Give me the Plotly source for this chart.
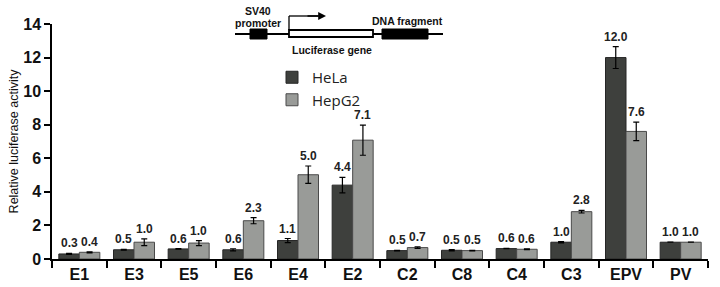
import plotly.graph_objects as go

categories = ["E1", "E3", "E5", "E6", "E4", "E2", "C2", "C8", "C4", "C3", "EPV", "PV"]
hela = [0.3, 0.55, 0.6, 0.55, 1.1, 4.4, 0.5, 0.52, 0.62, 1.0, 12.0, 1.0]
hela_err = [0.03, 0.03, 0.02, 0.06, 0.12, 0.46, 0.02, 0.04, 0.01, 0.04, 0.65, 0.0]
hela_lbl = ["0.3", "0.5", "0.6", "0.6", "1.1", "4.4", "0.5", "0.5", "0.6", "1.0", "12.0", "1.0"]
hepg2 = [0.4, 1.0, 0.95, 2.28, 5.02, 7.08, 0.68, 0.5, 0.58, 2.82, 7.6, 1.0]
hepg2_err = [0.03, 0.2, 0.15, 0.18, 0.52, 0.9, 0.05, 0.02, 0.02, 0.08, 0.55, 0.0]
hepg2_lbl = ["0.4", "1.0", "1.0", "2.3", "5.0", "7.1", "0.7", "0.5", "0.6", "2.8", "7.6", "1.0"]

W, H = 720, 287
ML, MR, MT, MB = 52, 12, 24, 28
PW, PH = W - ML - MR, H - MT - MB

def px(x):
    return (x - ML) / PW

def py(y):
    return (H - MB - y) / PH

fig = go.Figure()
fig.add_trace(go.Bar(
    x=categories, y=hela, name="HeLa",
    marker=dict(color="#3e403d", line=dict(color="#262626", width=1)),
    error_y=dict(type="data", array=hela_err, color="black", thickness=1.2, width=3),
))
fig.add_trace(go.Bar(
    x=categories, y=hepg2, name="HepG2",
    marker=dict(color="#999b98", line=dict(color="#4a4a4a", width=1)),
    error_y=dict(type="data", array=hepg2_err, color="black", thickness=1.2, width=3),
))

cat_w = PW / len(categories)
off = 0.1875 * cat_w
lfont = dict(family="Liberation Sans", size=12, color="#222")
ann = []
for c, v, e, t in zip(categories, hela, hela_err, hela_lbl):
    ann.append(dict(x=c, y=v + e, text="<b>" + t + "</b>", xshift=-off, yshift=1, showarrow=False,
                    xanchor="center", yanchor="bottom", font=lfont, xref="x", yref="y"))
for c, v, e, t in zip(categories, hepg2, hepg2_err, hepg2_lbl):
    ann.append(dict(x=c, y=v + e, text="<b>" + t + "</b>", xshift=off, yshift=1, showarrow=False,
                    xanchor="center", yanchor="bottom", font=lfont, xref="x", yref="y"))

# construct diagram
dfont = dict(family="Liberation Sans", size=10.5, color="#111")
def lab(x, y, t):
    return dict(x=px(x), y=py(y), text="<b>" + t + "</b>", xref="paper", yref="paper",
                showarrow=False, xanchor="center", yanchor="middle", font=dfont)
ann += [
    lab(258, 11, "SV40"),
    lab(258, 23, "promoter"),
    lab(332, 50, "Luciferase gene"),
    lab(407, 21, "DNA fragment"),
    dict(x=px(326), y=py(16), ax=-20, ay=0, xref="paper", yref="paper", axref="pixel", ayref="pixel",
         text="", showarrow=True, arrowhead=2, arrowsize=1.2, arrowwidth=1.3, arrowcolor="black"),
]
shapes = [
    dict(type="line", xref="paper", yref="paper", x0=px(235), x1=px(443), y0=py(34), y1=py(34),
         line=dict(color="black", width=1.8)),
    dict(type="rect", xref="paper", yref="paper", x0=px(250), x1=px(267), y0=py(29), y1=py(39),
         fillcolor="black", line=dict(color="black", width=1)),
    dict(type="rect", xref="paper", yref="paper", x0=px(289), x1=px(373), y0=py(30), y1=py(37),
         fillcolor="white", line=dict(color="black", width=1.8)),
    dict(type="rect", xref="paper", yref="paper", x0=px(382), x1=px(428), y0=py(29), y1=py(39),
         fillcolor="black", line=dict(color="black", width=1)),
    dict(type="line", xref="paper", yref="paper", x0=px(289), x1=px(289), y0=py(30), y1=py(16),
         line=dict(color="black", width=1.3)),
    dict(type="line", xref="paper", yref="paper", x0=px(289), x1=px(318), y0=py(16), y1=py(16),
         line=dict(color="black", width=1.3)),
]

fig.update_layout(
    width=W, height=H,
    margin=dict(l=ML, r=MR, t=MT, b=MB, pad=0),
    plot_bgcolor="white", paper_bgcolor="white",
    barmode="group", bargap=0.25, bargroupgap=0,
    font=dict(family="Liberation Sans", color="#111"),
    legend=dict(x=px(272), y=py(61), xanchor="left", yanchor="top",
                font=dict(family="Open Sans", size=15, color="#222"),
                bgcolor="rgba(0,0,0,0)", tracegroupgap=2, itemwidth=30),
    annotations=ann, shapes=shapes,
    xaxis=dict(type="category", range=[-0.5, len(categories) - 0.5], tickson="boundaries",
               ticks="outside", ticklen=7, tickwidth=1.5, tickcolor="black", automargin=False,
               showline=True, linecolor="black", linewidth=1.5, showgrid=False,
               tickfont=dict(family="Liberation Sans", size=16, color="#111"),
               tickprefix="<b>", ticksuffix="</b>"),
    yaxis=dict(range=[0, 14], dtick=2, ticks="outside", ticklen=6, tickwidth=1.5, tickcolor="black",
               showline=True, linecolor="black", linewidth=1.5, showgrid=False, zeroline=False,
               automargin=False,
               tickfont=dict(family="Liberation Sans", size=16, color="#111"),
               tickprefix="<b>", ticksuffix="</b>",
               title=dict(text="Relative luciferase activity", standoff=2,
                          font=dict(family="Liberation Sans", size=12.5, color="#111"))),
)

fig.write_html("out.html")
